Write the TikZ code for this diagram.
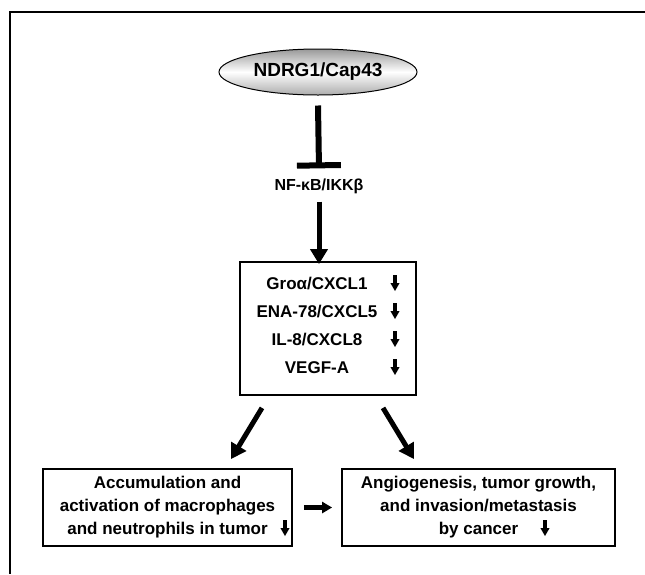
\documentclass[tikz,border=0pt]{standalone}
\usepackage{fontspec}
\setmainfont{Liberation Sans}
\usetikzlibrary{shapes.geometric,arrows.meta}
\tikzset{
  txt/.style={font=\bfseries\fontsize{17}{23}\selectfont, align=center, inner sep=0pt},
  box/.style={draw, line width=1.8pt, rectangle, inner sep=0pt},
  arr/.style={line width=5pt, -{Triangle[length=15pt,width=17pt]}},
  inhibit/.style={line width=6pt, -{Bar[width=44pt]}},
  dnarrow/.pic={
    \fill (-2.2,-8) rectangle (2.2,1);
    \fill (-4.6,0) -- (4.6,0) -- (0,8) -- cycle;
  }
}
\begin{document}
\begin{tikzpicture}[x=1pt,y=-1pt]
  \useasboundingbox (0,0) rectangle (645,574);
  \draw[line width=2pt] (645,12) -- (10,12) -- (10,574);

  \node[ellipse, draw, line width=1pt, minimum width=198pt, minimum height=46pt,
        top color=gray!80, bottom color=gray!65, middle color=white,
        font=\bfseries\fontsize{19}{22}\selectfont] (ndrg) at (318,72) {NDRG1/Cap43};
  \node[font=\bfseries\fontsize{16}{19}\selectfont, inner sep=0pt] (nfkb) at (319,186) {NF-κB/IKKβ};

  \node[box, minimum width=176pt, minimum height=133pt] (chem) at (328,328.5) {};
  \node[txt] (gro) at (317,284) {Groα/CXCL1};
  \node[txt] (ena) at (317,312) {ENA-78/CXCL5};
  \node[txt] (il8) at (317,340) {IL-8/CXCL8};
  \node[txt] (vegf) at (317,368) {VEGF-A};
  \foreach \y in {283,311,339,367}
    \pic at (395,\y) {dnarrow};

  \node[box, txt, minimum width=249pt, minimum height=77pt] (accum) at (167.5,507.5)
    {Accumulation and\\activation of macrophages\\and neutrophils in tumor\hspace{8pt}};
  \node[box, txt, minimum width=273pt, minimum height=77pt] (growth) at (478.5,507.5)
    {Angiogenesis, tumor growth,\\and invasion/metastasis\\by cancer};
  \pic at (285,528) {dnarrow};
  \pic at (545,528) {dnarrow};

  \draw[inhibit] ([yshift=-10pt]ndrg.south) -- ([yshift=10pt]nfkb.north);
  \draw[arr, shorten <=8pt, shorten >=-3pt] (nfkb.south) -- (chem.north -| nfkb.south);
  \draw[arr] ([xshift=-66pt,yshift=-12pt]chem.south) -- ([xshift=63.5pt,yshift=9pt]accum.north);
  \draw[arr] ([xshift=55pt,yshift=-12pt]chem.south) -- ([xshift=-64.5pt,yshift=9pt]growth.north);
  \draw[line width=4.5pt, -{Triangle[length=10pt,width=11pt]}, shorten <=11pt, shorten >=9pt]
    (accum.east) -- (growth.west);
\end{tikzpicture}
\end{document}
